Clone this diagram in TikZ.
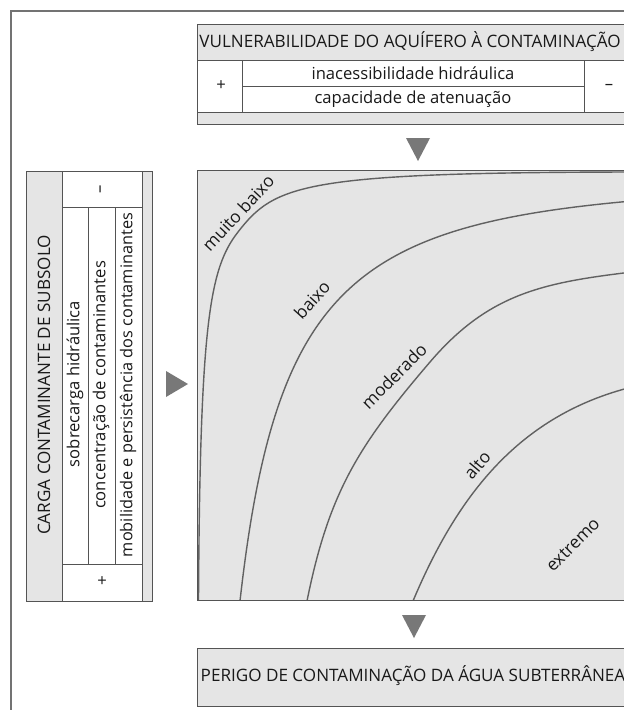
\documentclass[tikz,border=0pt]{standalone}
\usepackage{fontspec}
\setmainfont{Open Sans}
\usepackage{xcolor}
\usetikzlibrary{positioning}

\definecolor{linegray}{gray}{0.33}
\definecolor{curvegray}{gray}{0.38}
\definecolor{fillgray}{gray}{0.9}
\definecolor{arrowgray}{gray}{0.47}

\tikzset{
  boxline/.style={draw=linegray, line width=1pt},
  curveline/.style={draw=curvegray, line width=1.4pt},
  txt/.style={inner sep=0pt, text=black!90, font=\fontsize{16.6}{18}\selectfont},
  caps/.style={inner sep=0pt, text=black!90, font=\fontsize{17.1}{19}\selectfont},
  zone/.style={inner sep=0pt, text=black!90, font=\fontsize{17.3}{19}\selectfont}
}

\begin{document}
\begin{tikzpicture}[x=1pt, y=-1pt]
    % Page size
    \clip (0,0) rectangle (624,710);
    \fill[white] (0,0) rectangle (624,710);

    % Outer frame
    \draw[black!55, line width=1.6pt] (11,720) -- (11,11) -- (640,11);

    % Vulnerability box
    \fill[fillgray] (197,24) rectangle (632,124);
    \fill[white] (197,60) rectangle (632,112);
    \draw[boxline] (197,24) rectangle (632,124);
    \draw[boxline] (197,60) -- (632,60);
    \draw[boxline] (197,112) -- (632,112);
    \draw[boxline] (242,60) -- (242,112);
    \draw[boxline] (584,60) -- (584,112);
    \draw[boxline] (242,86) -- (584,86);
    \node[caps] (vulnhead) at (410,42) {VULNERABILIDADE DO AQUÍFERO À CONTAMINAÇÃO};
    \node[txt] (inacess) at (413,73) {inacessibilidade hidráulica};
    \node[txt] (capac) at (413,99) {capacidade de atenuação};
    \node[txt] (vulnplus) at (221,86) {+};
    \node[txt] (vulnminus) at (609,87) {–};

    % Load box
    \fill[fillgray] (26,171) rectangle (152,601);
    \fill[white] (62,171) rectangle (142,601);
    \draw[boxline] (26,171) rectangle (152,601);
    \draw[boxline] (62,171) -- (62,601);
    \draw[boxline] (142,171) -- (142,601);
    \draw[boxline] (62,207) -- (142,207);
    \draw[boxline] (62,564) -- (142,564);
    \draw[boxline] (88,207) -- (88,564);
    \draw[boxline] (115,207) -- (115,564);
    \node[caps, rotate=90] (cargahead) at (44,385) {CARGA CONTAMINANTE DE SUBSOLO};
    \node[txt, rotate=90] (sobrecarga) at (75,384) {sobrecarga hidráulica};
    \node[txt, rotate=90] (concentr) at (101,385) {concentração de contaminantes};
    \node[txt, rotate=90, font=\fontsize{16.3}{18}\selectfont] (mobil) at (128,385) {mobilidade e persistência dos contaminantes};
    \node[txt, rotate=90] (cargaminus) at (102,189) {–};
    \node[txt] (cargaplus) at (102,582) {+};

    % Arrows
    \fill[arrowgray] (406,138) -- (430,138) -- (418,161) -- cycle;
    \fill[arrowgray] (166,371) -- (188,384) -- (166,397) -- cycle;
    \fill[arrowgray] (402,615) -- (426,615) -- (414,638) -- cycle;

    % Hazard chart
    \fill[fillgray] (197,170) rectangle (632,600);
    \begin{scope}
      \clip (197,170) rectangle (632,600);
      \draw[curveline] (198.5,601) .. controls (200,320) and (210,268) .. (238,232)
                                   .. controls (274.8,184.7) and (302,172.5) .. (632,172);
      \draw[curveline] (240,601) .. controls (275,290) and (352,226) .. (632,201);
      \draw[curveline] (307,601) .. controls (329,492) and (358.5,445.6) .. (430,362)
                                 .. controls (488.5,293.6) and (542.6,282.7) .. (632,272);
      \draw[curveline] (413,601) .. controls (458,494) and (520,415) .. (632,387);
    \end{scope}
    \draw[boxline] (197,170) rectangle (632,600);
    \node[zone, rotate=47] (lblmuito) at (238,213) {muito baixo};
    \node[zone, rotate=48] (lblbaixo) at (312,300) {baixo};
    \node[zone, rotate=45] (lblmoder) at (394,376) {moderado};
    \node[zone, rotate=50] (lblalto) at (477,465) {alto};
    \node[zone, rotate=45] (lblextr) at (573,545) {extremo};

    % Hazard box
    \fill[fillgray] (197,648) rectangle (632,706);
    \draw[boxline] (197,648) rectangle (632,706);
    \node[caps] (perigo) at (413,676) {PERIGO DE CONTAMINAÇÃO DA ÁGUA SUBTERRÂNEA};
\end{tikzpicture}
\end{document}
